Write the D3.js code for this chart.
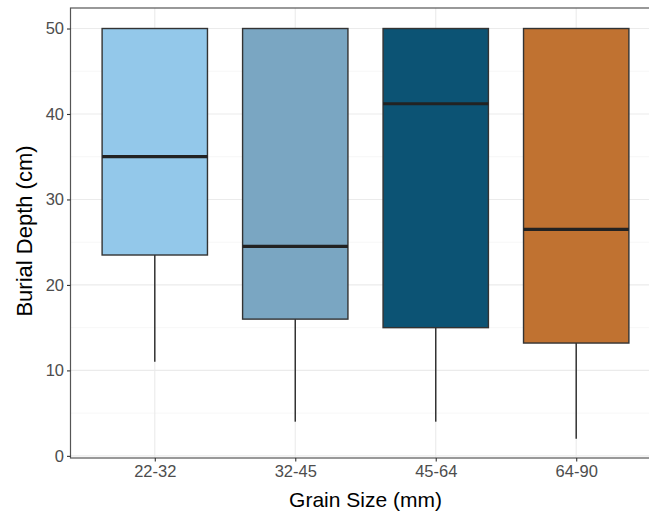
<!DOCTYPE html>
<html>
<head>
<meta charset="UTF-8">
<script src="https://d3js.org/d3.v7.min.js"></script>
<style>
  body { margin: 0; padding: 0; background: #fff; overflow: hidden; }
  svg { display: block; font-family: 'Liberation Sans', Arial, sans-serif; }
</style>
</head>
<body>
<div id="chart"></div>
<script>
  // grain size classes and box stats
  const categories = ["22-32", "32-45", "45-64", "64-90"];
  const lowerWhisker = [11, 4, 4, 2];
  const q1 = [23.5, 16, 15, 13.2];
  const medians = [35, 24.5, 41.2, 26.5];
  const q3 = [50, 50, 50, 50];
  const upperWhisker = [50, 50, 50, 50];
  const fills = ["#93c8ea", "#7aa6c2", "#0c5374", "#c07231"];
  const yTicks = [0, 10, 20, 30, 40, 50];
  const yMinor = [5, 15, 25, 35, 45];

  const boxes = categories.map((c, i) => ({
    cat: c, lo: lowerWhisker[i], q1: q1[i], med: medians[i],
    q3: q3[i], hi: upperWhisker[i], fill: fills[i]
  }));

  const width = 649, height = 515;
  const margin = { left: 70.5, top: 8, right: -11.5, bottom: 57 };
  const pw = width - margin.left - margin.right;
  const ph = height - margin.top - margin.bottom;

  const svg = d3.select("#chart").append("svg")
    .attr("width", width).attr("height", height);

  const g = svg.append("g").attr("transform", `translate(${margin.left},${margin.top})`);

  // discrete scale with ggplot's 0.6 unit padding each side
  const unit = pw / 4.2;
  const x = d3.scalePoint().domain(categories).range([0.6 * unit, pw - 0.6 * unit]);
  const y = d3.scaleLinear().domain([-0.25, 52.4]).range([ph, 0]);
  const bw = 0.75 * unit;

  // grid
  g.selectAll(".minor").data(yMinor).enter().append("line")
    .attr("x1", 0).attr("x2", pw)
    .attr("y1", d => y(d)).attr("y2", d => y(d))
    .attr("stroke", "#f2f2f2").attr("stroke-width", 0.6);
  g.selectAll(".major").data(yTicks).enter().append("line")
    .attr("x1", 0).attr("x2", pw)
    .attr("y1", d => y(d)).attr("y2", d => y(d))
    .attr("stroke", "#ebebeb").attr("stroke-width", 1.1);
  g.selectAll(".vmajor").data(categories).enter().append("line")
    .attr("x1", d => x(d)).attr("x2", d => x(d))
    .attr("y1", 0).attr("y2", ph)
    .attr("stroke", "#ebebeb").attr("stroke-width", 1.1);

  // whiskers
  g.selectAll(".whisk-lo").data(boxes).enter().append("line")
    .attr("x1", d => x(d.cat)).attr("x2", d => x(d.cat))
    .attr("y1", d => y(d.q1)).attr("y2", d => y(d.lo))
    .attr("stroke", "#333").attr("stroke-width", 1.5);
  g.selectAll(".whisk-hi").data(boxes).enter().append("line")
    .attr("x1", d => x(d.cat)).attr("x2", d => x(d.cat))
    .attr("y1", d => y(d.q3)).attr("y2", d => y(d.hi))
    .attr("stroke", "#333").attr("stroke-width", 1.5);

  // boxes
  g.selectAll(".box").data(boxes).enter().append("rect")
    .attr("x", d => x(d.cat) - bw / 2)
    .attr("width", bw)
    .attr("y", d => y(d.q3))
    .attr("height", d => y(d.q1) - y(d.q3))
    .attr("fill", d => d.fill)
    .attr("stroke", "#333").attr("stroke-width", 1.4);

  // medians
  g.selectAll(".med").data(boxes).enter().append("line")
    .attr("x1", d => x(d.cat) - bw / 2).attr("x2", d => x(d.cat) + bw / 2)
    .attr("y1", d => y(d.med)).attr("y2", d => y(d.med))
    .attr("stroke", "#222").attr("stroke-width", 3.2);

  // panel border
  g.append("rect").attr("x", 0).attr("y", 0).attr("width", pw).attr("height", ph)
    .attr("fill", "none").attr("stroke", "#555").attr("stroke-width", 1.2);

  // axes
  const yAxis = g.append("g").call(d3.axisLeft(y).tickValues(yTicks).tickSize(3.5).tickPadding(3));
  const xAxis = g.append("g").attr("transform", `translate(0,${ph})`)
    .call(d3.axisBottom(x).tickSize(3.5).tickPadding(4));
  [yAxis, xAxis].forEach(a => {
    a.select(".domain").remove();
    a.selectAll(".tick line").attr("stroke", "#333").attr("stroke-width", 1.1);
    a.selectAll(".tick text").attr("fill", "#4d4d4d").style("font-size", "16.5px");
  });

  svg.append("text")
    .attr("x", margin.left + pw / 2).attr("y", 507)
    .attr("text-anchor", "middle").style("font-size", "21px").attr("fill", "#000")
    .text("Grain Size (mm)");

  svg.append("text")
    .attr("transform", `translate(32,${margin.top + ph / 2 - 2}) rotate(-90)`)
    .attr("text-anchor", "middle").style("font-size", "22px").attr("fill", "#000")
    .text("Burial Depth (cm)");
</script>
</body>
</html>
